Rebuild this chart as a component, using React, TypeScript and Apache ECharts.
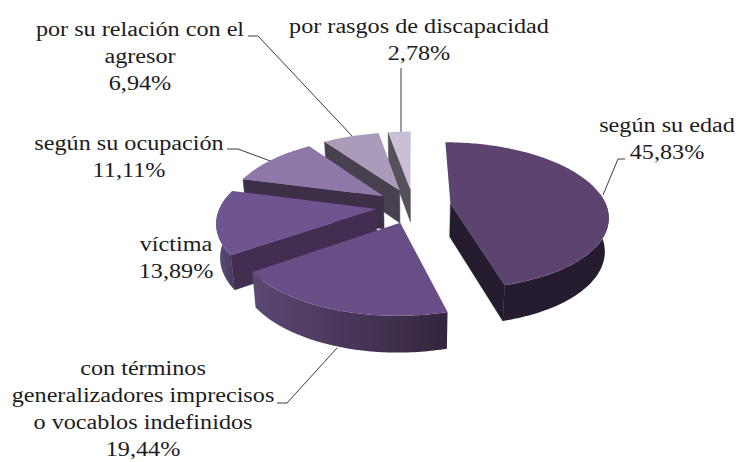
import React, { useEffect, useRef } from "react";
import * as echarts from "echarts";

const categories = [
  "según su edad",
  "con términos\ngeneralizadores imprecisos\no vocablos indefinidos",
  "víctima",
  "según su ocupación",
  "por su relación con el\nagresor",
  "por rasgos de discapacidad",
];
const percents = [45.83, 19.44, 13.89, 11.11, 6.94, 2.78];
const percentLabels = ["45,83%", "19,44%", "13,89%", "11,11%", "6,94%", "2,78%"];
const topColors = ["#5C4370", "#684D87", "#6F5590", "#8E78A8", "#AA9BBB", "#C9BFD7"];
const sideColors = ["#251B2E", "#3A2A48", "#412E50", "#3D2F47", "#48404F", "#55505A"];
const rimLeft = ["#251B2E", "#5C4873", "#5F4C78", "#3D2F47", "#48404F", "#55505A"];
const rimRight = ["#251B2E", "#33253F", "#4A3A5E", "#3D2F47", "#48404F", "#55505A"];
const labelCenters = [
  [667, 112],
  [143, 355],
  [176, 231],
  [129, 130],
  [140, 16],
  [419, 13],
];
const leaders = [
  [[625, 159], [618, 159], [603, 195]],
  [[277, 403], [287, 403], [337, 348]],
  [],
  [[227, 149], [238, 149], [273, 162]],
  [[248, 36], [258, 36], [353, 137]],
  [[401, 68], [401, 133]],
];

const CX = 413.5, CY = 206, A = 156, B = 72, K = 0.16, EXPLODE = 0.24, DEPTH = 33;
const rad = (d: number) => (d * Math.PI) / 180;

function project(X: number, Y: number, z: number): number[] {
  const s = 1 / (1 - K * Y);
  return [
    CX + A * X * s * (1 - 0.02 * z),
    CY + B * Y * s + DEPTH * Math.sqrt(s) * z,
  ];
}

const total = percents.reduce((a, b) => a + b, 0);
let acc = 0;
const sliceData = percents.map((v) => {
  const start = (acc / total) * 360;
  acc += v;
  return [start, (acc / total) * 360, v];
});

function renderSlice(params: any, api: any) {
  const i = params.dataIndex;
  const t0 = api.value(0);
  const t1 = api.value(1);
  const mid = rad((t0 + t1) / 2);
  const ax = EXPLODE * Math.sin(mid);
  const ay = -EXPLODE * Math.cos(mid);
  const rimPt = (t: number, z: number) =>
    project(ax + Math.sin(rad(t)), ay - Math.cos(rad(t)), z);
  const apex = (z: number) => project(ax, ay, z);
  const base = (6 - i) * 10;
  const children: any[] = [];

  const wall = (t: number) => ({
    type: "polygon",
    z2: base,
    shape: { points: [apex(0), rimPt(t, 0), rimPt(t, 1), apex(1)] },
    style: { fill: sideColors[i], stroke: sideColors[i], lineWidth: 0.5 },
  });
  if (Math.sin(rad(t0)) < -0.01) children.push(wall(t0));
  if (Math.sin(rad(t1)) > 0.01) children.push(wall(t1));

  const v0 = Math.max(t0, 82);
  const v1 = Math.min(t1, 280);
  if (v1 > v0) {
    const top: number[][] = [];
    const bottom: number[][] = [];
    const n = Math.ceil(v1 - v0);
    for (let k = 0; k <= n; k++) {
      const t = v0 + ((v1 - v0) * k) / n;
      top.push(rimPt(t, 0));
      bottom.unshift(rimPt(t, 1));
    }
    children.push({
      type: "polygon",
      z2: base + 1,
      shape: { points: top.concat(bottom) },
      style: {
        fill: new echarts.graphic.LinearGradient(0, 0, 1, 0, [
          { offset: 0, color: rimLeft[i] },
          { offset: 1, color: rimRight[i] },
        ]),
      },
    });
  }

  const face: number[][] = [apex(0)];
  const n = Math.ceil(t1 - t0);
  for (let k = 0; k <= n; k++) face.push(rimPt(t0 + ((t1 - t0) * k) / n, 0));
  children.push({
    type: "polygon",
    z2: base + 2,
    shape: { points: face },
    style: { fill: topColors[i] },
  });
  return { type: "group", children };
}

const FONT = '20px "Liberation Serif", "Times New Roman", serif';
const labelGraphics = categories.map((c, i) => ({
  type: "text",
  x: labelCenters[i][0],
  y: labelCenters[i][1],
  scaleX: 1.21,
  silent: true,
  style: {
    text: c + "\n" + percentLabels[i],
    font: FONT,
    fill: "#1c1c1c",
    textAlign: "center",
    textVerticalAlign: "top",
    lineHeight: 27,
  },
}));
const leaderGraphics = leaders
  .filter((l) => l.length > 0)
  .map((l) => ({
    type: "polyline",
    silent: true,
    shape: { points: l },
    style: { stroke: "#3c3c3c", lineWidth: 1, fill: "none" },
  }));

export default function App() {
  const ref = useRef<HTMLDivElement>(null);
  useEffect(() => {
    document.body.style.margin = "0";
    const chart = echarts.init(ref.current!, null, { renderer: "svg" });
    chart.setOption({
      animation: false,
      backgroundColor: "#ffffff",
      graphic: [...leaderGraphics, ...labelGraphics],
      series: [
        {
          type: "custom",
          coordinateSystem: "none",
          renderItem: renderSlice,
          data: sliceData,
          silent: true,
        },
      ],
    });
    return () => chart.dispose();
  }, []);
  return <div ref={ref} style={{ width: 740, height: 462 }} />;
}
